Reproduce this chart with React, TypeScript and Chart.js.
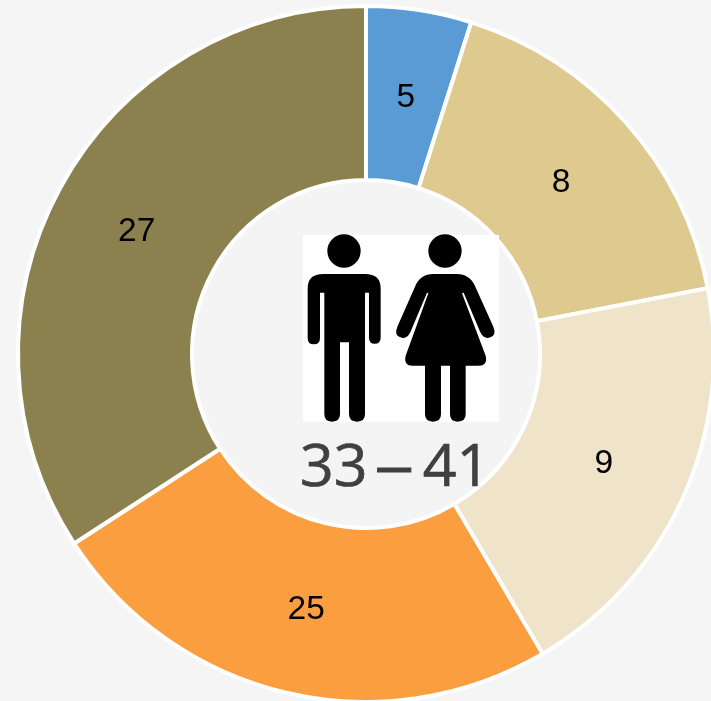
import React, { useEffect, useRef } from "react";
import { Chart, registerables } from "chart.js";

Chart.register(...registerables);

const sliceLabels = ["5", "8", "9", "25", "27"];
const sliceShares = [17.6, 61.5, 70.4, 87.5, 123];
const sliceColors = ["#5B9BD5", "#DEC98F", "#EFE4CA", "#FB9E40", "#8B814E"];
const rangeFrom = "33";
const rangeDash = "–";
const rangeTo = "41";

const valueLabels = {
  id: "valueLabels",
  afterDatasetsDraw(chart: any) {
    const { ctx } = chart;
    const arcs = chart.getDatasetMeta(0).data;
    ctx.save();
    ctx.font = '33.5px "Liberation Sans"';
    ctx.fillStyle = "#000000";
    ctx.textAlign = "center";
    ctx.textBaseline = "middle";
    arcs.forEach((arc: any, i: number) => {
      const p = arc.getCenterPoint();
      ctx.fillText(sliceLabels[i], p.x, p.y + 2);
    });
    ctx.restore();
  },
};

const centerFill = {
  id: "centerFill",
  beforeDatasetsDraw(chart: any) {
    const arc = chart.getDatasetMeta(0).data[0];
    const { ctx } = chart;
    ctx.save();
    ctx.fillStyle = "#F4F4F4";
    ctx.beginPath();
    ctx.arc(arc.x, arc.y, arc.innerRadius, 0, Math.PI * 2);
    ctx.fill();
    ctx.restore();
  },
};

export default function App() {
  const ref = useRef<HTMLCanvasElement | null>(null);
  useEffect(() => {
    const chart = new Chart(ref.current as HTMLCanvasElement, {
      type: "doughnut",
      data: {
        labels: sliceLabels,
        datasets: [
          {
            data: sliceShares,
            backgroundColor: sliceColors,
            borderColor: "#FFFFFF",
            borderWidth: 4,
            borderAlign: "center",
          },
        ],
      },
      options: {
        animation: false,
        responsive: false,
        cutout: "50%",
        layout: { padding: { left: 16, right: 6, top: 4, bottom: 0 } },
        plugins: { legend: { display: false }, tooltip: { enabled: false } },
      },
      plugins: [centerFill, valueLabels],
    } as any);
    return () => chart.destroy();
  }, []);

  return (
    <div
      style={{
        position: "fixed",
        left: 0,
        top: 0,
        width: 711,
        height: 701,
        overflow: "hidden",
        background: "#F5F5F5",
      }}
    >
      <canvas
        ref={ref}
        width={722}
        height={704}
        style={{ position: "absolute", left: 0, top: 0, width: 722, height: 704 }}
      />
      <svg
        style={{ position: "absolute", left: 290, top: 225 }}
        width={220}
        height={275}
        viewBox="0 0 660 825"
      >
        <rect x={38} y={30} width={589} height={560} fill="#FFFFFF" />
        <circle cx={162} cy={78} r={50} fill="#000000" />
        <circle cx={465} cy={78} r={50} fill="#000000" />
        <path
          fill="#000000"
          d="M53 190 Q53 147 100 147 H225 Q272 147 272 190 V338 Q272 356 254 356 Q237 356 237 338 V203 H225 V568 Q225 590 201 590 Q177 590 177 568 V352 H150 V568 Q150 590 126 590 Q103 590 103 568 V203 H90 V338 Q90 358 71 358 Q53 358 53 338 Z"
        />
        <path
          fill="#000000"
          d="M375 185 L322 305 Q312 330 331 337 Q350 344 361 322 L411 203 L415 205 L347 392 Q340 422 368 422 H405 V568 Q405 590 429 590 Q453 590 453 568 V422 H480 V568 Q480 590 503 590 Q527 590 527 568 V422 H565 Q594 422 587 392 L516 205 L521 203 L571 322 Q582 344 601 337 Q620 330 610 305 L556 185 Q540 147 500 147 H430 Q390 147 375 185 Z"
        />
      </svg>
      <div
        style={{
          position: "absolute",
          left: 300,
          top: 424,
          font: '59px/78px "Open Sans"',
          color: "#404040",
          WebkitTextStroke: "0.7px #404040",
          whiteSpace: "nowrap",
        }}
      >
        <span>{rangeFrom}</span>
        <span
          style={{
            font: '60px/78px "Liberation Sans"',
            WebkitTextStroke: "1px #404040",
            position: "relative",
            top: -1,
            marginLeft: 10,
            marginRight: 12,
          }}
        >
          {rangeDash}
        </span>
        <span>{rangeTo}</span>
      </div>
    </div>
  );
}
